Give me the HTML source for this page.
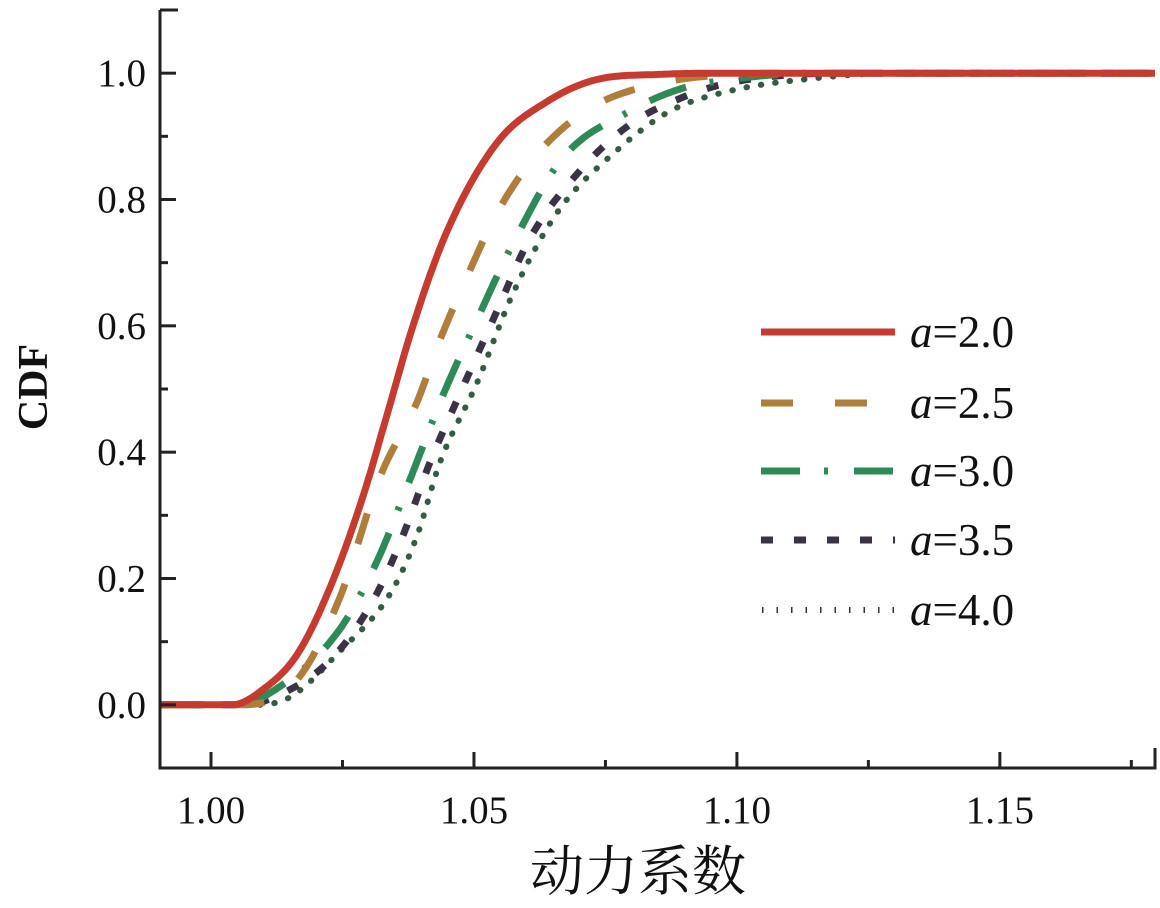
<!DOCTYPE html>
<html><head><meta charset="utf-8"><style>
body{margin:0;background:#fff}
svg{display:block}
text{font-family:"Liberation Serif","Noto Serif CJK SC",serif;fill:#111}
</style></head><body>
<svg id="chart" width="1160" height="908"></svg>
<script>
const seriesNames=["a=2.0","a=2.5","a=3.0","a=3.5","a=4.0"];
const xs20=[0.99,1.004,1.010,1.0164,1.0226,1.0289,1.0335,1.0384,1.0449,1.0544,1.0639,1.0734,1.085,1.10,1.18];
const ys20=[0,0,0.025,0.08,0.185,0.33,0.46,0.6,0.75,0.89,0.955,0.99,0.998,1.0,1.0];
const xs25=[0.99,1.006,1.0164,1.0245,1.0321,1.0392,1.0435,1.0487,1.0544,1.0620,1.0726,1.0859,1.0973,1.11,1.18];
const ys25=[0,0,0.04,0.17,0.36,0.48,0.577,0.678,0.779,0.872,0.947,0.985,0.997,1.0,1.0];
const xs30=[0.99,1.006,1.0099,1.0240,1.0316,1.0378,1.0441,1.0506,1.0574,1.0669,1.0797,1.0892,1.0987,1.115,1.18];
const ys30=[0,0,0.012,0.114,0.228,0.356,0.49,0.61,0.73,0.866,0.94,0.975,0.99,1.0,1.0];
const xs35=[0.99,1.007,1.0099,1.0226,1.0308,1.0365,1.0416,1.0479,1.0544,1.0606,1.0702,1.0797,1.0892,1.0987,1.12,1.18];
const ys35=[0,0,0.005,0.07,0.165,0.268,0.383,0.503,0.624,0.738,0.846,0.919,0.96,0.985,1.0,1.0];
const xs40=[0.99,1.008,1.0150,1.0245,1.0340,1.0392,1.0435,1.0506,1.0574,1.0658,1.0764,1.0873,1.0987,1.115,1.13,1.18];
const ys40=[0,0,0.012,0.085,0.175,0.268,0.383,0.51,0.651,0.779,0.872,0.94,0.972,0.992,1.0,1.0];
const xTicks=[1.00,1.05,1.10,1.15];
const xTickLabels=["1.00","1.05","1.10","1.15"];
const yTicks=[0,0.2,0.4,0.6,0.8,1.0];
const yTickLabels=["0.0","0.2","0.4","0.6","0.8","1.0"];

const NS="http://www.w3.org/2000/svg";
const svg=document.getElementById('chart');
const X0=0.9903,X1=1.1795,PL=160,PR=1155;
const Y0=-0.1,Y1=1.1,PB=768,PT=10;
function sx(v){return PL+(v-X0)/(X1-X0)*(PR-PL);}
function sy(v){return PB-(v-Y0)/(Y1-Y0)*(PB-PT);}
function mk(tag,attrs,parent){const e=document.createElementNS(NS,tag);for(const k in attrs)e.setAttribute(k,attrs[k]);(parent||svg).appendChild(e);return e;}
// monotone cubic (Fritsch-Carlson) in data space, sampled densely
function monoPath(xa,ya){
  const n=xa.length,d=[],m=new Array(n);
  for(let i=0;i<n-1;i++)d.push((ya[i+1]-ya[i])/(xa[i+1]-xa[i]));
  m[0]=d[0];m[n-1]=d[n-2];
  for(let i=1;i<n-1;i++){m[i]=(d[i-1]*d[i]<=0)?0:(d[i-1]+d[i])/2;}
  for(let i=0;i<n-1;i++){
    if(d[i]===0){m[i]=0;m[i+1]=0;continue;}
    const a=m[i]/d[i],b=m[i+1]/d[i],s=a*a+b*b;
    if(s>9){const t=3/Math.sqrt(s);m[i]=t*a*d[i];m[i+1]=t*b*d[i];}
  }
  let p="";
  for(let i=0;i<n-1;i++){
    const h=xa[i+1]-xa[i];
    for(let k=0;k<=20;k++){
      if(i>0&&k===0)continue;
      const t=k/20,t2=t*t,t3=t2*t;
      const y=(2*t3-3*t2+1)*ya[i]+(t3-2*t2+t)*h*m[i]+(-2*t3+3*t2)*ya[i+1]+(t3-t2)*h*m[i+1];
      const x=xa[i]+t*h;
      p+=(p?" L":"M")+sx(x).toFixed(1)+","+sy(y).toFixed(1);
    }
  }
  return p;
}
const styles=[
 {c:"#c63b2f",w:7,dash:"",cap:"butt",ld:""},
 {c:"#b07d3a",w:7,dash:"32 42",cap:"butt",ld:"32 42"},
 {c:"#2e8a57",w:7,dash:"39 24 4 26",cap:"butt",ld:"39 24 4 26"},
 {c:"#3b3246",w:7,dash:"12 21",cap:"butt",ld:"12 21"},
 {c:"#375a44",w:6,dash:"0.5 14",cap:"round",ld:"1.5 13"}
];
const allX=[xs20,xs25,xs30,xs35,xs40],allY=[ys20,ys25,ys30,ys35,ys40];
const clip=mk('clipPath',{id:'pc'});mk('rect',{x:PL,y:PT,width:PR-PL,height:PB-PT},clip);
const g=mk('g',{'clip-path':'url(#pc)'});


for(let s=4;s>=0;s--){
  const st=styles[s];
  const p=mk('path',{d:monoPath(allX[s],allY[s]),fill:'none',stroke:st.c,'stroke-width':st.w,'stroke-dasharray':st.dash,'stroke-linecap':st.cap,'stroke-linejoin':'round'},g);
  
  
}
// axes
const ax=mk('g',{stroke:'#222','stroke-width':3,fill:'none'});


mk('line',{x1:PL,y1:PT,x2:PL,y2:PB+1.5},ax);
mk('line',{x1:PL-1.5,y1:PB,x2:PR+1.5,y2:PB},ax);
mk('line',{x1:PR,y1:PB-20,x2:PR,y2:PB},ax);
for(let v=-0.1;v<=1.101;v+=0.1){const major=Math.abs(Math.round(v*10)%2)===0&&v>-0.05;mk('line',{x1:PL,y1:sy(v),x2:PL+(major?16:8),y2:sy(v)},ax);}
mk('line',{x1:PL,y1:PT,x2:178,y2:PT},ax);
for(let v=1.0;v<=1.18;v+=0.025){const major=Math.round(v*1000)%50===0;mk('line',{x1:sx(v),y1:PB,x2:sx(v),y2:PB-(major?16:8)},ax);}
yTicks.forEach((v,i)=>{const t=mk('text',{x:146,y:sy(v)+13,'text-anchor':'end','font-size':39});t.textContent=yTickLabels[i];

});
xTicks.forEach((v,i)=>{const t=mk('text',{x:sx(v),y:823,'text-anchor':'middle','font-size':39});t.textContent=xTickLabels[i];

});
const yt=mk('text',{x:0,y:0,transform:'translate(47,387) rotate(-90)','text-anchor':'middle','font-size':42,'font-weight':'bold'});yt.textContent="CDF";


const xt=mk('text',{x:638,y:890,'text-anchor':'middle','font-size':54});xt.textContent="动力系数";


// legend
const lg=mk('g',{});


const legY=[332,403,471,540,610];
seriesNames.forEach((n,i)=>{
  const y=legY[i],st=styles[i];
  const e=mk('g',{},lg);
  
  
  if(i===4){
    mk('line',{x1:762,y1:y,x2:895,y2:y,stroke:'#333','stroke-width':6,'stroke-dasharray':st.ld},e);
  } else {
    mk('line',{x1:761,y1:y,x2:895,y2:y,stroke:st.c,'stroke-width':st.w,'stroke-dasharray':st.ld},e);
  }
  const t=mk('text',{x:910,y:y+15,'font-size':45},e);
  const a=mk('tspan',{'font-style':'italic'},t);a.textContent="a";
  const r=mk('tspan',{},t);r.textContent=n.slice(1);
});
</script>
</body></html>
